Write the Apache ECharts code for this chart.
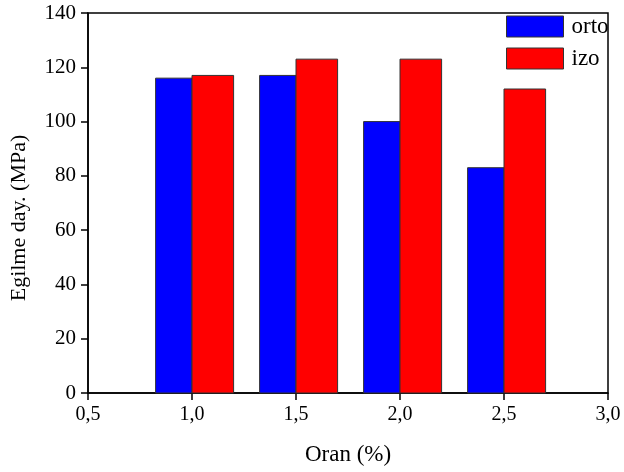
<!DOCTYPE html>
<html>
<head>
<meta charset="utf-8">
<script src="https://cdn.jsdelivr.net/npm/echarts@6/dist/echarts.min.js"></script>
<style>html,body{margin:0;padding:0;background:#fff;}#c{width:624px;height:472px;}</style>
</head>
<body>
<div id="c"></div>
<script>
var oran = [1.0, 1.5, 2.0, 2.5];
var orto = [116, 117, 100, 83];
var izo = [117, 123, 123, 112];
var yTicks = [0, 20, 40, 60, 80, 100, 120, 140];
var xTicks = [0.5, 1.0, 1.5, 2.0, 2.5, 3.0];

var FONT = '"Liberation Serif", "Times New Roman", serif';

function makeRender(off0, off1) {
  return function (params, api) {
    var x = api.value(0), y = api.value(1);
    var p0 = api.coord([x + off0, y]);
    var p1 = api.coord([x + off1, 0]);
    return {
      type: 'rect',
      shape: { x: p0[0], y: p0[1], width: p1[0] - p0[0], height: p1[1] - p0[1] },
      style: api.style({ stroke: '#333', lineWidth: 1 })
    };
  };
}

var chart = echarts.init(document.getElementById('c'), null, { renderer: 'canvas' });
chart.setOption({
  animation: false,
  backgroundColor: '#fff',
  grid: { left: 86, right: 16, top: 13, bottom: 79, show: true, borderColor: '#000', borderWidth: 1.5, backgroundColor: 'transparent' },
  legend: {
    orient: 'vertical', left: 501, top: 10, itemWidth: 57, itemHeight: 21, itemGap: 9,
    icon: 'rect',
    textStyle: { fontFamily: FONT, fontSize: 23, color: '#000', padding: [0, 0, 0, 3] },
    itemStyle: { borderColor: '#333', borderWidth: 1 },
    data: ['orto', 'izo']
  },
  xAxis: {
    type: 'value', min: xTicks[0], max: xTicks[xTicks.length - 1], interval: 0.5,
    name: 'Oran (%)', nameLocation: 'middle', nameGap: 50,
    nameTextStyle: { fontFamily: FONT, fontSize: 23, color: '#000' },
    axisLine: { show: true, onZero: false, lineStyle: { color: '#000', width: 1.5 } },
    axisTick: { show: true, length: 7, inside: false, lineStyle: { color: '#000', width: 1.5 } },
    axisLabel: { fontFamily: FONT, fontSize: 20, color: '#000', margin: 12,
      formatter: function (v) { return v.toFixed(1).replace('.', ','); } },
    splitLine: { show: false }
  },
  yAxis: {
    type: 'value', min: yTicks[0], max: yTicks[yTicks.length - 1], interval: 20,
    name: 'Egilme day. (MPa)', nameLocation: 'middle', nameGap: 58,
    nameTextStyle: { fontFamily: FONT, fontSize: 22, color: '#000', padding: [0, 30, 0, 0] },
    axisLine: { show: true, lineStyle: { color: '#000', width: 1.5 } },
    axisTick: { show: true, length: 7, inside: false, lineStyle: { color: '#000', width: 1.5 } },
    axisLabel: { fontFamily: FONT, fontSize: 21, color: '#000', margin: 12 },
    splitLine: { show: false }
  },
  series: [
    {
      name: 'orto', type: 'custom',
      itemStyle: { color: '#0000ff', borderColor: '#333', borderWidth: 1 },
      renderItem: makeRender(-0.175, 0),
      encode: { x: 0, y: 1 },
      data: oran.map(function (x, i) { return [x, orto[i]]; })
    },
    {
      name: 'izo', type: 'custom',
      itemStyle: { color: '#ff0000', borderColor: '#333', borderWidth: 1 },
      renderItem: makeRender(0, 0.2),
      encode: { x: 0, y: 1 },
      data: oran.map(function (x, i) { return [x, izo[i]]; })
    }
  ]
});
</script>
</body>
</html>
